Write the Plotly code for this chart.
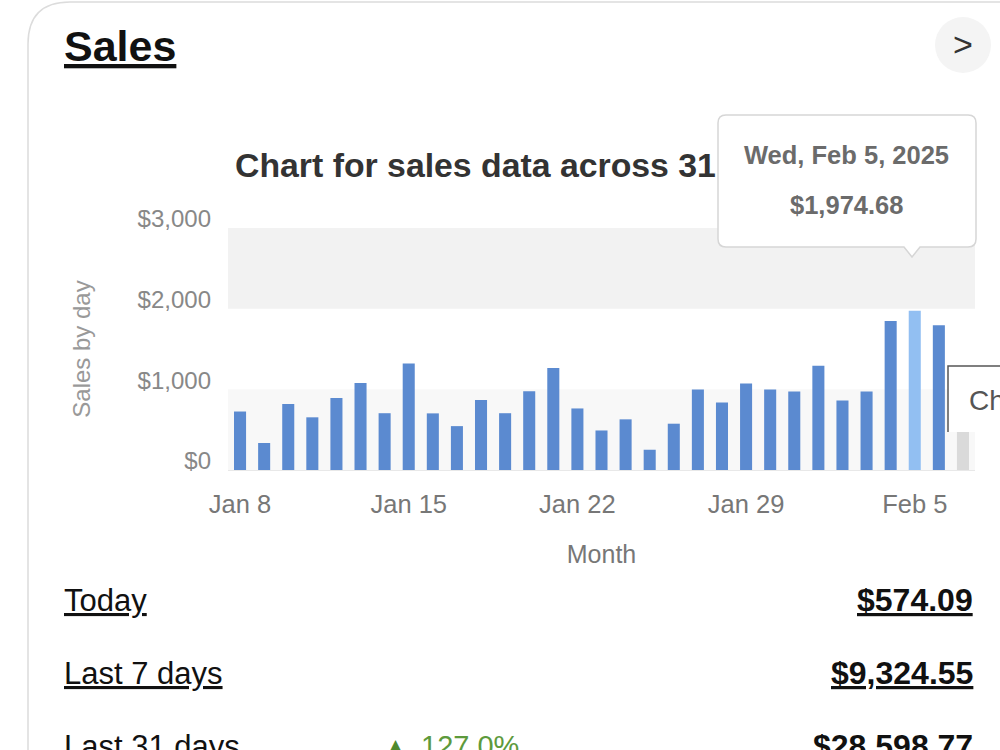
import plotly.graph_objects as go

# ---------------- data ----------------
dates = ["2025-01-08", "2025-01-09", "2025-01-10", "2025-01-11", "2025-01-12", "2025-01-13",
         "2025-01-14", "2025-01-15", "2025-01-16", "2025-01-17", "2025-01-18", "2025-01-19",
         "2025-01-20", "2025-01-21", "2025-01-22", "2025-01-23", "2025-01-24", "2025-01-25",
         "2025-01-26", "2025-01-27", "2025-01-28", "2025-01-29", "2025-01-30", "2025-01-31",
         "2025-02-01", "2025-02-02", "2025-02-03", "2025-02-04", "2025-02-05", "2025-02-06",
         "2025-02-07"]
sales = [725, 335, 817, 653, 892, 1077, 704, 1320, 702, 544, 867, 704, 977, 1266, 763, 490,
         628, 251, 574, 997, 838, 1072, 997, 972, 1291, 863, 972, 1848, 1974.68, 1794, 574.09]
tick_dates = ["2025-01-08", "2025-01-15", "2025-01-22", "2025-01-29", "2025-02-05"]
y_ticks = [0, 1000, 2000, 3000]
y_tick_labels = ["$0", "$1,000", "$2,000", "$3,000"]
hovered_date = "2025-02-05"
today_date = "2025-02-07"
tooltip_lines = ["Wed, Feb 5, 2025", "$1,974.68"]
summary_labels = ["Today", "Last 7 days", "Last 31 days"]
summary_values = ["$574.09", "$9,324.55", "$28,598.77"]
change_text = "127.0%"

# ---------------- layout helpers ----------------
W, H = 1000, 750
PL, PR, PT, PB = 228, 975, 228, 470  # plot area in pixels


def px(x):
    return (x - PL) / (PR - PL)


def py(y):
    return (PB - y) / (PB - PT)


BLUE = "#5b8ad0"
LIGHT = "#92bff2"
GRAY = "#dadada"
colors = [LIGHT if d == hovered_date else GRAY if d == today_date else BLUE for d in dates]

FONT = "Liberation Sans, Arial, sans-serif"

fig = go.Figure(go.Bar(x=dates, y=sales, marker=dict(color=colors, line=dict(width=0)),
                       hoverinfo="skip"))

shapes = [
    dict(type="rect", xref="paper", yref="y", x0=0, x1=1, y0=0, y1=1000,
         fillcolor="#f8f8f8", line=dict(width=0), layer="below"),
    dict(type="rect", xref="paper", yref="y", x0=0, x1=1, y0=2000, y1=3000,
         fillcolor="#f2f2f2", line=dict(width=0), layer="below"),
    # card border
    dict(type="path", xref="paper", yref="paper",
         path=f"M {px(28)},{py(760)} L {px(28)},{py(44)} Q {px(28)},{py(2)} {px(70)},{py(2)} L {px(1010)},{py(2)}",
         line=dict(color="#dcdcdc", width=1.5)),
    # chevron circle
    dict(type="circle", xref="paper", yref="paper",
         x0=px(935), x1=px(991), y0=py(73), y1=py(17),
         fillcolor="#f4f4f4", line=dict(width=0)),
    # tooltip
    dict(type="path", xref="paper", yref="paper",
         path=(f"M {px(726)},{py(115)} L {px(968)},{py(115)} Q {px(976)},{py(115)} {px(976)},{py(123)} "
               f"L {px(976)},{py(239)} Q {px(976)},{py(247)} {px(968)},{py(247)} "
               f"L {px(920)},{py(247)} L {px(912)},{py(257)} L {px(904)},{py(247)} "
               f"L {px(726)},{py(247)} Q {px(718)},{py(247)} {px(718)},{py(239)} "
               f"L {px(718)},{py(123)} Q {px(718)},{py(115)} {px(726)},{py(115)} Z"),
         fillcolor="white", line=dict(color="#d6d6d6", width=1.5)),
    # partially visible box on the right
    dict(type="rect", xref="paper", yref="paper",
         x0=px(948), x1=px(1010), y0=py(432), y1=py(366),
         fillcolor="white", line=dict(width=0)),
    dict(type="path", xref="paper", yref="paper",
         path=f"M {px(948)},{py(432)} L {px(948)},{py(366)} L {px(1010)},{py(366)}",
         line=dict(color="#555555", width=1.5)),
]

annotations = [
    dict(text="<b>Sales</b>", x=px(62), y=py(46), xanchor="left", yanchor="middle",
         font=dict(family=FONT, size=43, color="#111", lineposition="under")),
    dict(text=">", x=px(963), y=py(44), xanchor="center", yanchor="middle",
         font=dict(family=FONT, size=34, color="#333")),
    dict(text=f"<b>{tooltip_lines[0]}</b>", x=px(846), y=py(155), xanchor="center", yanchor="middle",
         font=dict(family=FONT, size=25.5, color="#6b6b6b")),
    dict(text=f"<b>{tooltip_lines[1]}</b>", x=px(846), y=py(205), xanchor="center", yanchor="middle",
         font=dict(family=FONT, size=25.5, color="#6b6b6b")),
    dict(text="Ch", x=px(967), y=py(400), xanchor="left", yanchor="middle",
         font=dict(family=FONT, size=28, color="#555")),
]
rows_y = [600, 673, 746]
for lab, val, yy in zip(summary_labels, summary_values, rows_y):
    annotations.append(dict(text=lab, x=px(62), y=py(yy), xanchor="left", yanchor="middle",
                            font=dict(family=FONT, size=31, color="#111", lineposition="under")))
    annotations.append(dict(text=f"<b>{val}</b>", x=px(975), y=py(yy), xanchor="right",
                            yanchor="middle",
                            font=dict(family=FONT, size=32, color="#111", lineposition="under")))
annotations.append(dict(text="▲", x=px(387), y=py(745), xanchor="left", yanchor="middle",
                        font=dict(family="DejaVu Sans, sans-serif", size=17, color="#4f8a2f")))
annotations.append(dict(text=change_text, x=px(419), y=py(746), xanchor="left", yanchor="middle",
                        font=dict(family=FONT, size=29, color="#5d9a3c")))

for a in annotations:
    a.update(xref="paper", yref="paper", showarrow=False)

fig.update_layout(
    width=W, height=H, autosize=False,
    margin=dict(l=PL, r=W - PR, t=PT, b=H - PB, pad=0),
    paper_bgcolor="white", plot_bgcolor="white",
    bargap=0.5, showlegend=False,
    font=dict(family=FONT, color="#777"),
    title=dict(text="<b>Chart for sales data across 31</b>", xref="container", yref="container",
               x=235 / W, y=1 - 165 / H, xanchor="left", yanchor="middle",
               font=dict(family=FONT, size=33.8, color="#333")),
    xaxis=dict(type="date", range=["2025-01-07 12:00", "2025-02-07 12:00"],
               tickvals=tick_dates, tickformat="%b %-d",
               tickfont=dict(size=25.5, color="#777"), showgrid=False, zeroline=False,
               showline=True, linecolor="#e8e8e8", linewidth=1, ticks="", ticklabelstandoff=11,
               title=dict(text="Month", font=dict(size=25, color="#777"), standoff=28),
               fixedrange=True),
    yaxis=dict(range=[0, 3000], tickmode="array", tickvals=y_ticks, ticktext=y_tick_labels,
               tickfont=dict(size=24, color="#888"), showgrid=False, zeroline=False,
               ticks="", ticklabelstandoff=16, ticklabelshift=-9,
               title=dict(text="Sales by day", font=dict(size=24, color="#999"), standoff=40),
               fixedrange=True),
    shapes=shapes, annotations=annotations,
)

fig.write_html("out.html", config={"displayModeBar": False})
